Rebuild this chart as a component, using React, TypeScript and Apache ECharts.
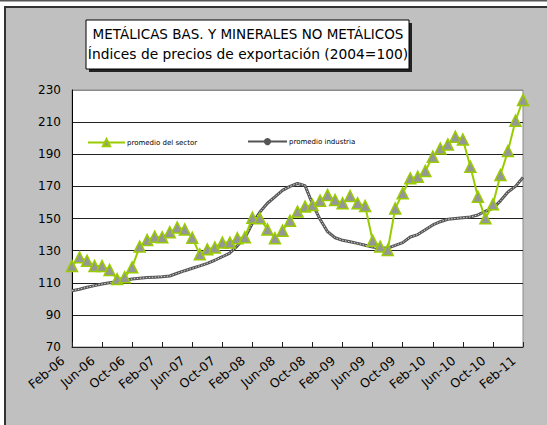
import React, { useEffect, useRef } from "react";
import * as echarts from "echarts";

const MONTH_ABBR = ["Jan", "Feb", "Mar", "Apr", "May", "Jun", "Jul", "Aug", "Sep", "Oct", "Nov", "Dec"];
const START_YEAR = 2006;
const START_MONTH = 1; // Feb
const N_MONTHS = 61;

const CATEGORIES: string[] = Array.from({ length: N_MONTHS }, (_, i) => {
  const m = (START_MONTH + i) % 12;
  const y = START_YEAR + Math.floor((START_MONTH + i) / 12);
  return `${MONTH_ABBR[m]}-${String(y % 100).padStart(2, "0")}`;
});

const SECTOR = [
  120.4, 125.8, 123.7, 120.4, 120.4, 118, 112.3, 113.4, 119.6, 132.5,
  136.6, 138.7, 138.3, 141.5, 144.4, 143.2, 138, 127.7, 130.8, 132,
  135, 135, 137.7, 138.3, 150.5, 150.1, 143.2, 137.7, 142.4, 148.6,
  154.3, 157.4, 158.4, 161.1, 164.6, 161.5, 159.5, 164, 159.5, 157.8,
  136.2, 132.5, 130.4, 156.3, 165.7, 175, 176, 179.6, 188.5, 193.6,
  196.1, 200.9, 199.2, 182.2, 163.6, 150.1, 158.8, 177.1, 192, 210.9,
  223.8,
];

const INDUSTRY = [
  105, 106, 107.2, 108.2, 109.2, 110, 110.7, 111.5, 112.3, 112.8,
  113.2, 113.5, 113.8, 114.2, 115.9, 117.5, 119, 120.5, 122.1, 124,
  126.2, 128.5, 133, 138, 147, 154, 159.5, 163.5, 167.5, 170,
  171.8, 170.5, 159, 149.5, 141.8, 138, 136.4, 135.5, 134.5, 133.3,
  132.2, 131.5, 131.6, 133.3, 135, 138.5, 140, 143, 146, 148,
  149.5, 150, 150.5, 151, 152.2, 154.5, 156.3, 161, 166.5, 170,
  175.5,
];

const SERIES_NAMES = ["promedio del sector", "promedio industria"];
const TITLE_LINES = ["METÁLICAS BAS. Y MINERALES NO METÁLICOS", "Índices de precios de exportación (2004=100)"];
const Y_MIN = 70;
const Y_MAX = 230;
const Y_STEP = 20;

const FONT = "DejaVu Sans";

export default function App() {
  const ref = useRef<HTMLDivElement>(null);
  useEffect(() => {
    if (!ref.current) return;
    const chart = echarts.init(ref.current, undefined, { renderer: "svg" });
    const nLines = (Y_MAX - Y_MIN) / Y_STEP + 1;
    const splitColors = Array.from({ length: nLines }, (_, i) => (i === nLines - 1 ? "#8a8a8a" : "#222"));
    chart.setOption({
      animation: false,
      backgroundColor: "#ffffff",
      textStyle: { fontFamily: FONT },
      graphic: [
        { type: "rect", z: -10, silent: true, shape: { x: 0, y: 0, width: 547, height: 1.5 }, style: { fill: "#555" } },
        {
          type: "rect",
          z: -10,
          silent: true,
          shape: { x: 5, y: 7, width: 600, height: 500 },
          style: { fill: "#C0C0C0", stroke: "#333", lineWidth: 2 },
        },
        {
          type: "group",
          z: 100,
          children: [
            { type: "rect", shape: { x: 89, y: 23, width: 323, height: 49 }, style: { fill: "#222" } },
            { type: "rect", shape: { x: 86, y: 20, width: 323, height: 49 }, style: { fill: "#fff", stroke: "#000", lineWidth: 1 } },
            {
              type: "text",
              x: 248,
              y: 34,
              style: { text: TITLE_LINES[0], fontFamily: FONT, fontSize: 13.5, fill: "#000", align: "center", verticalAlign: "middle" },
            },
            {
              type: "text",
              x: 248,
              y: 54,
              style: { text: TITLE_LINES[1], fontFamily: FONT, fontSize: 13.8, fill: "#000", align: "center", verticalAlign: "middle" },
            },
          ],
        },
      ],
      grid: {
        left: 72,
        top: 90,
        right: 24,
        bottom: 78,
        show: true,
        backgroundColor: "#ffffff",
        borderColor: "#8a8a8a",
        borderWidth: 1,
        containLabel: false,
      },
      legend: [
        {
          data: [{ name: SERIES_NAMES[0] }],
          left: 87,
          top: 138,
          itemWidth: 37,
          itemHeight: 9,
          itemGap: 0,
          textStyle: { fontFamily: FONT, fontSize: 7, color: "#000", padding: [0, 0, 0, -3] },
          padding: 0,
          selectedMode: false,
        },
        {
          data: [{ name: SERIES_NAMES[1] }],
          left: 247,
          top: 138,
          itemWidth: 39,
          itemHeight: 9,
          itemGap: 0,
          textStyle: { fontFamily: FONT, fontSize: 7, color: "#000", padding: [0, 0, 0, -3] },
          padding: 0,
          selectedMode: false,
        },
      ],
      xAxis: {
        type: "category",
        data: CATEGORIES,
        boundaryGap: false,
        axisLine: { show: true, lineStyle: { color: "#222", width: 1 } },
        axisTick: { show: true, interval: 3, inside: true, length: 5, lineStyle: { color: "#222" } },
        axisLabel: {
          interval: 3,
          rotate: 40,
          fontFamily: FONT,
          fontSize: 12.5,
          color: "#000",
          margin: 4,
          padding: [0, 12, 0, 0],
        },
        splitLine: { show: false },
      },
      yAxis: {
        type: "value",
        min: Y_MIN,
        max: Y_MAX,
        interval: Y_STEP,
        axisLine: { show: true, lineStyle: { color: "#000", width: 1 } },
        axisTick: { show: false },
        axisLabel: { fontFamily: FONT, fontSize: 12, color: "#000", margin: 11 },
        splitLine: { show: true, lineStyle: { color: splitColors, width: 1 } },
      },
      series: [
        {
          name: SERIES_NAMES[1],
          type: "line",
          data: INDUSTRY,
          symbol: "none",
          lineStyle: { color: "#555", width: 3 },
          itemStyle: { color: "#555" },
          z: 2,
        },
        {
          name: "industria-textura",
          type: "line",
          data: INDUSTRY,
          symbol: "none",
          lineStyle: { color: "#d8d8d8", width: 1, type: [1.5, 1.5] },
          silent: true,
          z: 3,
        },
        {
          name: SERIES_NAMES[0],
          type: "line",
          data: SECTOR,
          symbol: "triangle",
          symbolSize: 11,
          showSymbol: true,
          showAllSymbol: true,
          lineStyle: { color: "#99CC00", width: 2 },
          itemStyle: { color: "#969696", borderColor: "#99CC00", borderWidth: 1.5 },
          z: 4,
        },
      ],
    });
    return () => chart.dispose();
  }, []);
  return <div ref={ref} style={{ position: "absolute", left: 0, top: 0, width: 547, height: 425 }} />;
}
